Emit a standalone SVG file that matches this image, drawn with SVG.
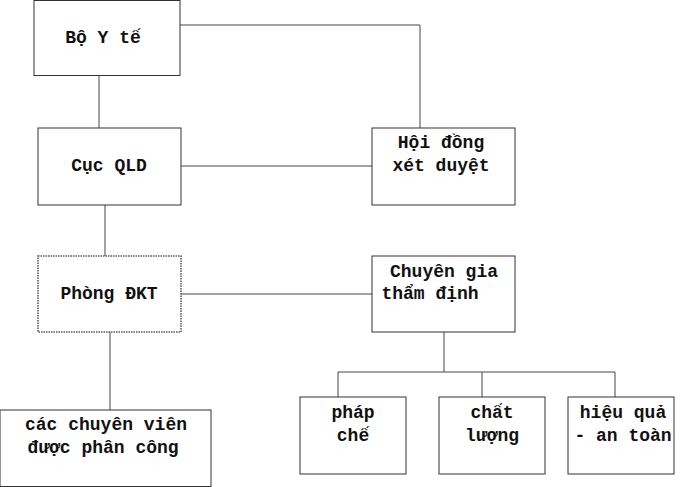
<svg xmlns="http://www.w3.org/2000/svg" width="696" height="487" viewBox="0 0 696 487">
<style>
rect{fill:#fff;stroke:#333;stroke-width:1}
.dot{stroke:#555;stroke-width:1.5;stroke-dasharray:1.5 1}
text{font-family:"Liberation Mono","DejaVu Sans Mono",monospace;font-weight:bold;font-size:18px;text-anchor:middle;fill:#111}
#connectors line{stroke:#444;stroke-width:1}
</style>
<rect x="0" y="0" width="696" height="487" style="stroke:none"/>
<g id="connectors">
<line x1="180" y1="25" x2="420" y2="25"/><line x1="420" y1="25" x2="420" y2="128"/>
<line x1="99" y1="75" x2="99" y2="128"/>
<line x1="105" y1="205" x2="105" y2="256"/>
<line x1="181" y1="166" x2="372" y2="166"/>
<line x1="181" y1="294" x2="372" y2="294"/>
<line x1="110" y1="332" x2="110" y2="410"/>
<line x1="444" y1="332" x2="444" y2="372"/>
<line x1="338" y1="372" x2="615" y2="372"/>
<line x1="338" y1="372" x2="338" y2="397"/><line x1="482" y1="372" x2="482" y2="397"/><line x1="615" y1="372" x2="615" y2="397"/>
</g>
<g id="boyte"><rect x="34" y="0.5" width="146" height="75"/><text x="103" y="43">Bộ Y tế</text></g>
<g id="cucqld"><rect x="38" y="128" width="143" height="77"/><text x="109" y="171">Cục QLD</text></g>
<g id="hoidong"><rect x="372" y="128" width="143" height="77"/><text x="441" y="148">Hội đồng</text><text x="441" y="171">xét duyệt</text></g>
<g id="phongdkt"><rect class="dot" x="38" y="256" width="143" height="76"/><text x="109" y="299">Phòng ĐKT</text></g>
<g id="chuyengia"><rect x="372" y="256" width="143" height="76"/><text x="444" y="277">Chuyên gia</text><text x="430" y="299">thẩm định</text></g>
<g id="chuyenvien"><rect x="0" y="410" width="211" height="76.5"/><text x="106" y="430">các chuyên viên</text><text x="103" y="453">được phân công</text></g>
<g id="phapche"><rect x="300" y="397" width="106" height="77"/><text x="353" y="418">pháp</text><text x="353" y="441">chế</text></g>
<g id="chatluong"><rect x="439" y="397" width="106" height="77"/><text x="492" y="418">chất</text><text x="492" y="441">lượng</text></g>
<g id="hieuqua"><rect x="568" y="397" width="106" height="77"/><text x="623" y="418">hiệu quả</text><text x="623" y="441">- an toàn</text></g>
</svg>
